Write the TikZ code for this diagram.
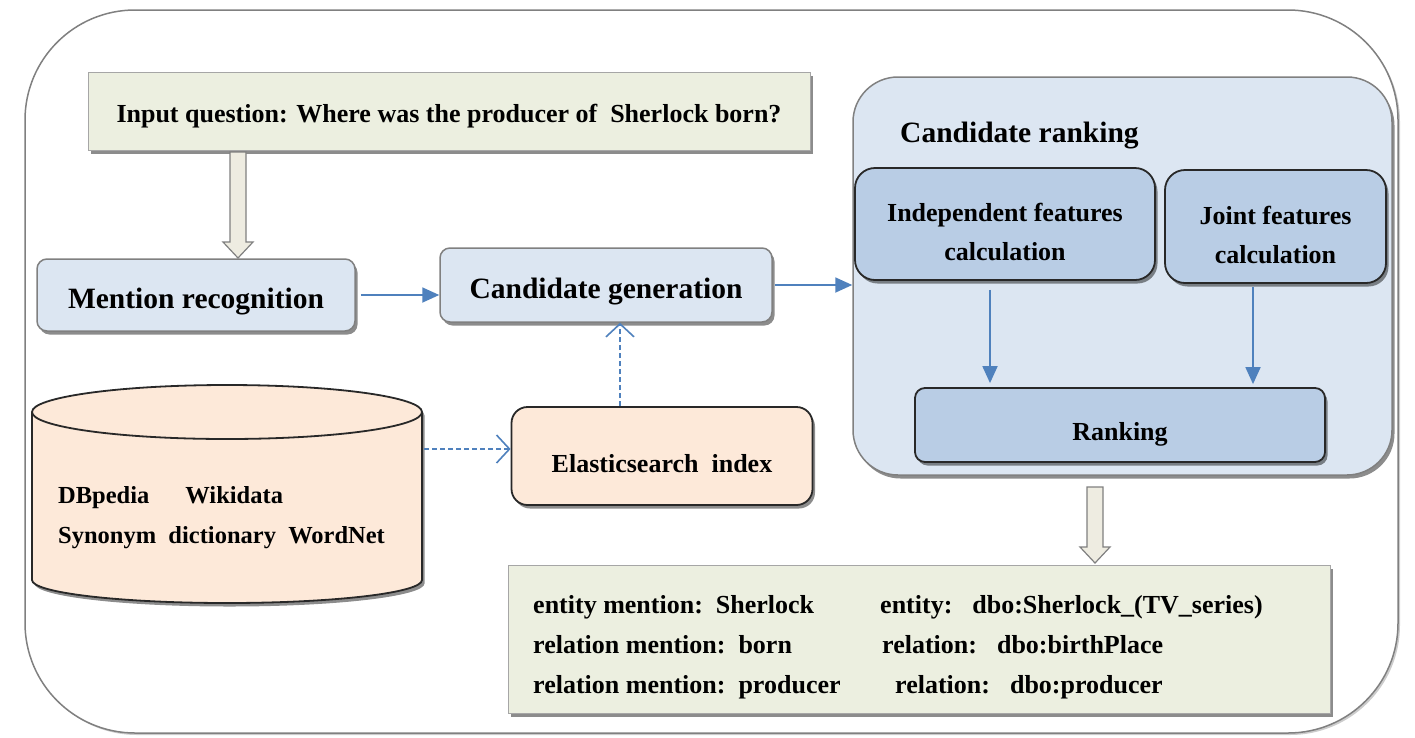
\documentclass[tikz,border=0pt]{standalone}
\usepackage{fontspec}
\setmainfont{Liberation Serif}
\usetikzlibrary{arrows.meta,shadows,calc}
\definecolor{qfill}{RGB}{236,239,224}
\definecolor{lblue}{RGB}{220,230,242}
\definecolor{mblue}{RGB}{185,205,229}
\definecolor{peach}{RGB}{253,233,217}
\definecolor{boxgray}{RGB}{128,128,128}
\definecolor{darkline}{RGB}{40,40,40}
\definecolor{arrowblue}{RGB}{79,129,189}
\definecolor{beige}{RGB}{238,236,225}
\newcommand\fatarrow[2]{\path[fat] let \p1=(#1), \p2=(#2) in (\x1-8pt,\y1) -- (\x1+8pt,\y1) -- (\x1+8pt,\y2+16pt) -- (\x1+15pt,\y2+16pt) -- (\x1,\y2) -- (\x1-15pt,\y2+16pt) -- (\x1-8pt,\y2+16pt) -- cycle;}
\begin{document}
\begin{tikzpicture}[x=1pt,y=-1pt,font=\bfseries,
  shad/.style={drop shadow={shadow xshift=2.5pt,shadow yshift=-3.5pt,opacity=0.45,fill=black}},
  greenbox/.style={draw=boxgray!70,line width=1pt,fill=qfill,shad,inner sep=0pt},
  lightbox/.style={draw=boxgray,line width=1.5pt,fill=lblue,rounded corners=10pt,shad,inner sep=0pt},
  darkbox/.style={draw=darkline,line width=1.8pt,fill=mblue,rounded corners=20pt,shad,inner sep=0pt},
  peachbox/.style={draw=darkline,line width=1.8pt,fill=peach,rounded corners=16pt,shad,inner sep=0pt},
  bluearrow/.style={draw=arrowblue,line width=1.8pt,-{Triangle[length=17pt,width=15pt]}},
  dasharrow/.style={draw=arrowblue,line width=1.6pt,dash pattern=on 5pt off 3pt,-{Straight Barb[length=13pt,width=28pt,line width=1.6pt]}},
  fat/.style={draw=boxgray,line width=1.2pt,fill=beige},
  txt/.style={inner sep=0pt,anchor=base west},
  lbl/.style={inner sep=0pt,align=center}]
\useasboundingbox (0,0) rectangle (1415,737);
% outer frame
\draw[draw=boxgray,line width=1.5pt,fill=white,rounded corners=110pt,drop shadow={shadow xshift=2pt,shadow yshift=-2pt,opacity=0.2,fill=black}] (25,10) rectangle (1398,733);
% input question
\node[greenbox,minimum width=722pt,minimum height=78pt] (q) at (449,111) {};
\node[lbl,font=\bfseries\fontsize{26}{31}\selectfont] (qt) at ([yshift=-5pt]q.center) {Input question: Where was the producer of\ \ Sherlock born?};
% mention recognition
\node[lightbox,minimum width=318pt,minimum height=72pt] (mr) at (196,295) {};
\node[lbl,font=\bfseries\fontsize{29.5}{35}\selectfont] (mrt) at ([yshift=-7pt]mr.center) {Mention recognition};
% candidate generation
\node[lightbox,minimum width=332pt,minimum height=74pt] (cg) at (606,285) {};
\node[lbl,font=\bfseries\fontsize{29.5}{35}\selectfont] (cgt) at ([yshift=-7pt]cg.center) {Candidate generation};
% elasticsearch
\node[peachbox,minimum width=301pt,minimum height=98pt] (es) at (662,456) {};
\node[lbl,font=\bfseries\fontsize{26}{31}\selectfont] (est) at ([yshift=-8pt]es.center) {Elasticsearch\ \ index};
% database cylinder
\draw[draw=darkline,line width=1.8pt,fill=peach,drop shadow={shadow xshift=2.5pt,shadow yshift=-3.5pt,opacity=0.45,fill=black}] (32,412) -- (32,580) arc[start angle=180,end angle=360,x radius=195pt,y radius=23pt] -- (422,412) arc[start angle=0,end angle=180,x radius=195pt,y radius=27pt] -- cycle;
\draw[draw=darkline,line width=1.8pt] (32,412) arc[start angle=180,end angle=360,x radius=195pt,y radius=27pt];
\node[inner sep=0pt,anchor=west,align=left,font=\bfseries\fontsize{24.5}{40}\selectfont] (db) at (58,518) {DBpedia\hspace{36pt}Wikidata\\Synonym\ \ dictionary\ \ WordNet};
\coordinate (dbR) at (424,449);
% candidate ranking
\node[draw=boxgray,line width=1.5pt,fill=lblue,rounded corners=45pt,shad,minimum width=539pt,minimum height=398pt] (cr) at (1122.5,276) {};
\node[txt,font=\bfseries\fontsize{29.5}{35}\selectfont] (crt) at (900,142) {Candidate ranking};
\node[darkbox,minimum width=300pt,minimum height=112pt] (ind) at (1005,224) {};
\node[lbl,font=\bfseries\fontsize{26}{39}\selectfont] (indt) at ([yshift=-8pt]ind.center) {Independent features\\calculation};
\node[darkbox,minimum width=221pt,minimum height=113pt] (joint) at (1275.5,226.5) {};
\node[lbl,font=\bfseries\fontsize{26}{39}\selectfont] (jointt) at ([yshift=-8pt]joint.center) {Joint features\\calculation};
\node[darkbox,rounded corners=10pt,minimum width=410pt,minimum height=74pt] (rank) at (1120,425) {};
\node[lbl,font=\bfseries\fontsize{26}{31}\selectfont] (rankt) at ([yshift=-9pt]rank.center) {Ranking};
% output box
\node[greenbox,minimum width=822pt,minimum height=148pt] (out) at (919,639) {};
\begin{scope}[font=\bfseries\fontsize{26}{30}\selectfont]
\node[txt] (o1a) at (533,613) {entity mention:\ \ Sherlock};
\node[txt] (o1b) at (880,613) {entity:\hspace{20pt}dbo:Sherlock\_(TV\_series)};
\node[txt] (o2a) at (533,653) {relation mention:\ \ born};
\node[txt] (o2b) at (882,653) {relation:\hspace{20pt}dbo:birthPlace};
\node[txt] (o3a) at (533,693) {relation mention:\ \ producer};
\node[txt] (o3b) at (895,693) {relation:\hspace{20pt}dbo:producer};
\end{scope}
% connectors
\coordinate (f1s) at (238,152);
\coordinate (f1e) at (238,258);
\fatarrow{f1s}{f1e}
\coordinate (f2s) at (1095,487);
\coordinate (f2e) at (1095,563);
\fatarrow{f2s}{f2e}
\draw[bluearrow] ([xshift=5pt]mr.east) -- (mr.east -| cg.west);
\draw[bluearrow] ([xshift=2pt]cg.east) -- (cg.east -| cr.west);
\draw[dasharrow] (dbR) -- (dbR -| es.west);
\draw[dasharrow] ([xshift=-42pt]es.north) -- ([xshift=-42pt]es.north |- cg.south);
\draw[bluearrow,shorten <=9pt,shorten >=4pt] ([xshift=-15pt]ind.south) -- ([xshift=-15pt]ind.south |- rank.north);
\draw[bluearrow,shorten <=3pt,shorten >=3pt] ([xshift=-22.5pt]joint.south) -- ([xshift=-22.5pt]joint.south |- rank.north);
\end{tikzpicture}
\end{document}
